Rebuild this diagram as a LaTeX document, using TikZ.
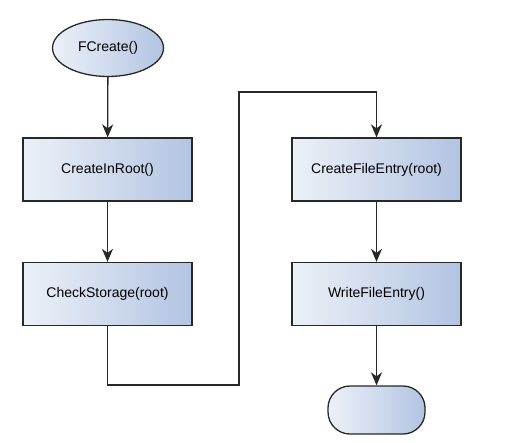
\documentclass[tikz,border=0pt]{standalone}
\usepackage{fontspec}
\setmainfont{Liberation Sans}
\usetikzlibrary{arrows.meta,shapes.geometric}
\definecolor{L}{RGB}{236,241,248}
\definecolor{D}{RGB}{178,196,226}
\definecolor{K}{RGB}{40,40,40}

\begin{document}
\begin{tikzpicture}[x=1pt,y=-1pt,
   box/.style={draw=K,line width=1.3pt,left color=L,right color=D,inner sep=0pt,font=\fontsize{14}{16}\selectfont},
   proc/.style={box,minimum width=169pt,minimum height=63pt},
   start/.style={box,ellipse,minimum width=111pt,minimum height=57pt},
   stop/.style={box,rounded corners=22pt,minimum width=97pt,minimum height=48pt},
   flow/.style={draw=K,line width=1.3pt,-{Stealth[length=13pt,width=11pt,inset=4pt]}}]
   	\useasboundingbox (0,0) rectangle (511,442);

	%Columna izquierda
   	\node[start] (fcreate) at (108,48) {FCreate()};
   	\node[proc] (inroot) at (107.5,169.5) {CreateInRoot()};
   	\node[proc] (check) at (107.5,294) {CheckStorage(root)};

	%Columna derecha
   	\node[proc] (fileentry) at (376.5,169.5) {CreateFileEntry(root)};
   	\node[proc] (writeentry) at (376.5,294) {WriteFileEntry()};
   	\node[stop] (fin) at (376.5,410) {};

	%Puntos de quiebre del conector
   	\coordinate (bendA) at (239,385);
   	\coordinate (bendB) at (239,92);

	%Flechas
   	\draw[flow] (fcreate) -- (inroot);
   	\draw[flow] (inroot) -- (check);
   	\draw[flow] (check.south) |- (bendA) -- (bendB) -| (fileentry.north);
   	\draw[flow] (fileentry) -- (writeentry);
   	\draw[flow] (writeentry) -- (fin);
\end{tikzpicture}
\end{document}
